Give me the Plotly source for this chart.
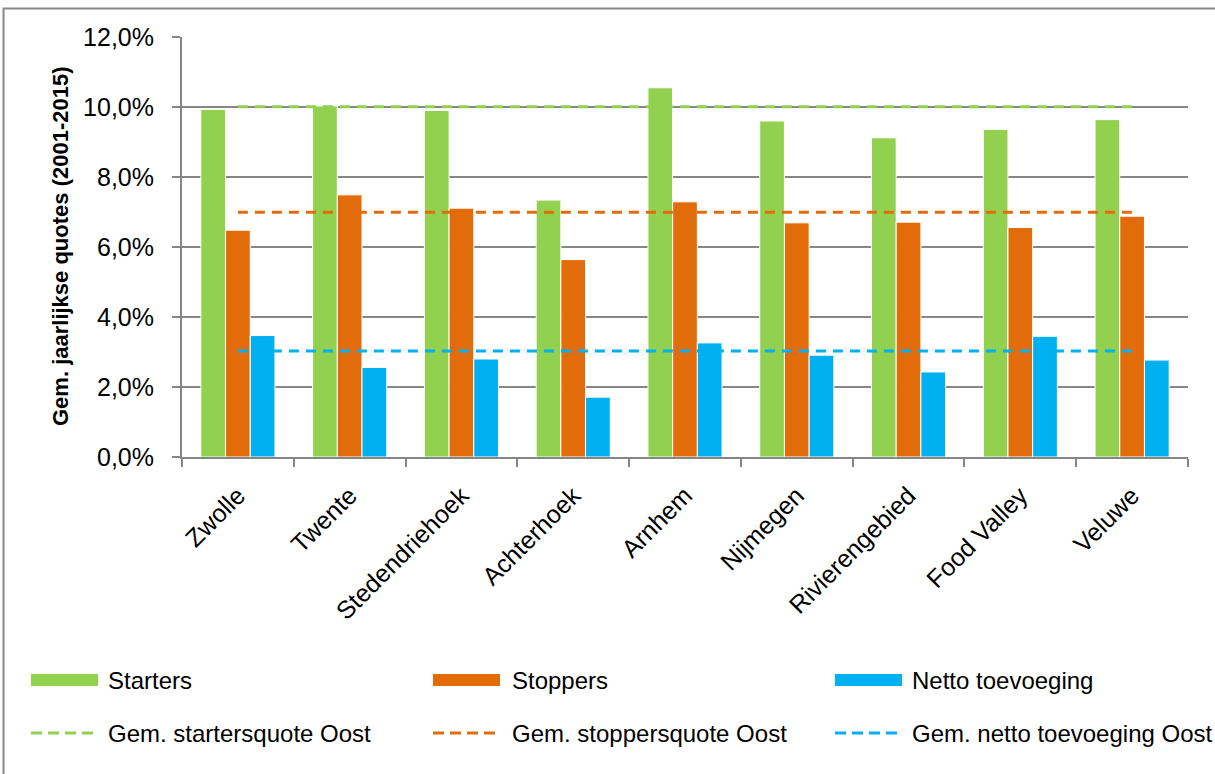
import plotly.graph_objects as go

regions = ["Zwolle", "Twente", "Stedendriehoek", "Achterhoek", "Arnhem",
           "Nijmegen", "Rivierengebied", "Food Valley", "Veluwe"]
starters = [0.0993, 0.1003, 0.0990, 0.0734, 0.1055, 0.0960, 0.0912, 0.0936, 0.0964]
stoppers = [0.0648, 0.0749, 0.0711, 0.0564, 0.0729, 0.0669, 0.0671, 0.0656, 0.0688]
netto = [0.0347, 0.0256, 0.0280, 0.0171, 0.0326, 0.0291, 0.0243, 0.0345, 0.0277]
avg_starters = 0.1001
avg_stoppers = 0.0699
avg_netto = 0.0303

bar_names = ["Starters", "Stoppers", "Netto toevoeging"]
line_names = ["Gem. startersquote Oost", "Gem. stoppersquote Oost", "Gem. netto toevoeging Oost"]
colors = ["#92D050", "#E36C0A", "#00B0F0"]

FONT = "Liberation Sans, Arial, sans-serif"
GRID = "#868686"

# plot area in pixels
L, R, T, B = 182, 1188, 37, 457
W, H = 1215, 774
pw, ph = R - L, B - T


def px(x):
    return (x - L) / pw


def py(y):
    return (B - y) / ph


fig = go.Figure()
for name, vals, c in zip(bar_names, [starters, stoppers, netto], colors):
    fig.add_trace(go.Bar(x=regions, y=vals, name=name, marker_color=c,
                         marker_line=dict(color="white", width=1), showlegend=False))
for name, avg, c in zip(line_names, [avg_starters, avg_stoppers, avg_netto], colors):
    fig.add_trace(go.Scatter(x=regions, y=[avg] * len(regions), mode="lines", name=name,
                             line=dict(color=c, width=3, dash="10px,7px"), showlegend=False))

shapes = []
annotations = []
# outer chart border
shapes.append(dict(type="rect", xref="paper", yref="paper", x0=px(3.5), x1=px(1230),
                   y0=py(800), y1=py(8.5), line=dict(color="#898989", width=2), layer="below"))

# manual legend
cols_x = [31, 433, 835]
text_x = [106, 510, 910]
for i in range(3):
    shapes.append(dict(type="rect", xref="paper", yref="paper",
                       x0=px(cols_x[i]), x1=px(cols_x[i] + 67), y0=py(686), y1=py(674),
                       fillcolor=colors[i], line=dict(width=0)))
    annotations.append(dict(xref="paper", yref="paper", x=px(text_x[i]), y=py(680),
                            text=bar_names[i], showarrow=False, xanchor="left", yanchor="middle",
                            font=dict(family=FONT, size=24, color="black")))
    shapes.append(dict(type="line", xref="paper", yref="paper",
                       x0=px(cols_x[i]), x1=px(cols_x[i] + 64), y0=py(733), y1=py(733),
                       line=dict(color=colors[i], width=3, dash="11px,6px")))
    annotations.append(dict(xref="paper", yref="paper", x=px(text_x[i]), y=py(733),
                            text=line_names[i], showarrow=False, xanchor="left", yanchor="middle",
                            font=dict(family=FONT, size=24, color="black")))

# y-axis title
annotations.append(dict(xref="paper", yref="paper", x=px(60), y=py(246),
                        text="<b>Gem. jaarlijkse quotes (2001-2015)</b>", textangle=-90,
                        showarrow=False, xanchor="center", yanchor="middle",
                        font=dict(family=FONT, size=22, color="black")))

fig.update_layout(
    width=W, height=H,
    margin=dict(l=L, r=W - R, t=T, b=H - B, autoexpand=False),
    paper_bgcolor="white", plot_bgcolor="white",
    barmode="group", bargap=0.337, bargroupgap=0,
    separators=",.",
    font=dict(family=FONT, size=25, color="black"),
    shapes=shapes, annotations=annotations,
    showlegend=False,
)
fig.update_xaxes(
    showgrid=False, showline=True, linecolor=GRID, linewidth=2,
    ticks="outside", ticklen=8, tickcolor=GRID, tickwidth=2, tickson="boundaries",
    tickangle=-45, tickfont=dict(family=FONT, size=25, color="black"),
    ticklabelstandoff=12,
)
fig.update_yaxes(
    range=[0, 0.12], dtick=0.02, tickformat=".1%",
    showgrid=True, gridcolor=GRID, gridwidth=2,
    showline=True, linecolor=GRID, linewidth=2,
    ticks="outside", ticklen=8, tickcolor=GRID, tickwidth=2,
    tickfont=dict(family=FONT, size=25, color="black"),
    ticklabelstandoff=13, zeroline=False,
)

fig.write_html("out.html")
